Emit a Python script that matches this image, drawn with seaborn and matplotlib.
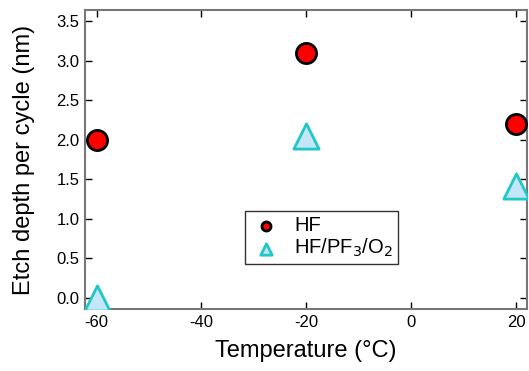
import matplotlib
matplotlib.use("Agg")
import matplotlib.pyplot as plt
import seaborn as sns
import pandas as pd

temps = [-60, -20, 20]
hf = [2.0, 3.1, 2.2]
hf_pf3_o2 = [0.0, 2.05, 1.42]
xticks = [-60, -40, -20, 0, 20]
yticks = [0.0, 0.5, 1.0, 1.5, 2.0, 2.5, 3.0, 3.5]

sns.set_theme(style="white")
plt.rcParams['font.family'] = ['Liberation Sans', 'DejaVu Sans']
plt.rcParams['text.color'] = 'black'
plt.rcParams['axes.labelcolor'] = 'black'
plt.rcParams['xtick.color'] = 'black'
plt.rcParams['ytick.color'] = 'black'

df = pd.DataFrame({
    "T": temps * 2,
    "d": hf + hf_pf3_o2,
    "s": ["HF"] * 3 + ["HF/PF$_3$/O$_2$"] * 3,
})

fig = plt.figure(figsize=(5.29, 3.71), dpi=100)
ax = fig.add_axes([85/529, 1 - 309/371, (527 - 85)/529, (309 - 10)/371])

d1 = df[df.s == "HF"]
d2 = df[df.s != "HF"]
sns.scatterplot(data=d1, x="T", y="d", ax=ax, marker="o", s=210,
                color="#ff0000", edgecolor="black", linewidth=2, label="HF", zorder=3)
sns.scatterplot(data=d2, x="T", y="d", ax=ax, marker="^", s=330,
                color="#c4e6f8", edgecolor="#1ec8c8", linewidth=2,
                label="HF/PF$_3$/O$_2$", zorder=3)

ax.set_xlim(-62.2, 22.1)
ax.set_ylim(-0.14, 3.64)
ax.set_xticks(xticks)
ax.set_xticklabels([str(t) for t in xticks])
ax.set_yticks(yticks)
ax.set_yticklabels([f"{v:.1f}" for v in yticks])
ax.tick_params(direction="in", top=True, right=True, length=5, width=1,
               color="black", labelcolor="black", labelsize=12, pad=4,
               bottom=True, left=True)
for sp in ax.spines.values():
    sp.set_color("#777777")
    sp.set_linewidth(1.5)
ax.set_xlabel("Temperature (°C)", fontsize=17, labelpad=7.5)
ax.set_ylabel("Etch depth per cycle (nm)", fontsize=17, labelpad=15)

leg = ax.legend(loc="upper left", bbox_to_anchor=((245 - 85)/442, (309 - 211)/299),
                frameon=True, fancybox=False, fontsize=14.5, handletextpad=0.6,
                borderpad=0.25, labelspacing=0.1, markerscale=0.45, handlelength=1.6,
                borderaxespad=0)
leg.get_frame().set_edgecolor("black")
leg.get_frame().set_linewidth(1)
for t in leg.get_texts():
    t.set_color("black")

fig.savefig("out.png", dpi=100)
